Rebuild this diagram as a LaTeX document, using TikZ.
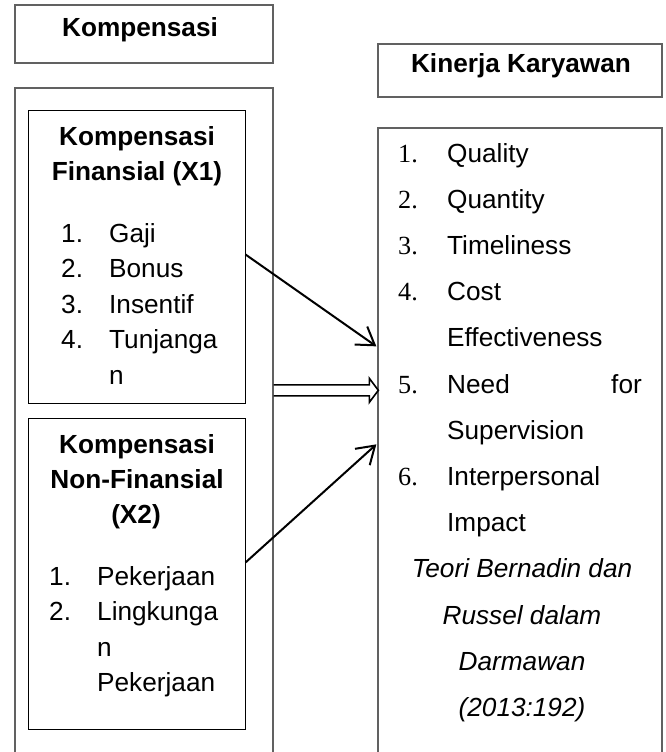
\documentclass[tikz,border=0pt]{standalone}
\usepackage{fontspec}
\setmainfont{Liberation Sans}
\newfontfamily\tnr{Liberation Serif}
\usetikzlibrary{arrows.meta,calc}
\begin{document}
\begin{tikzpicture}[x=1pt,y=-1pt,
  obox/.style={draw=black!62, line width=1.3pt, inner sep=0pt},
  ibox/.style={draw=black, line width=1pt, inner sep=0pt},
  tx/.style={inner sep=0pt, font=\fontsize{26.2}{30}\selectfont},
  tb/.style={inner sep=0pt, font=\fontsize{26.2}{30}\selectfont\bfseries},
  ti/.style={inner sep=0pt, font=\fontsize{26.2}{30}\selectfont\itshape},
  tn/.style={inner sep=0pt, font=\fontsize{26.2}{30}\selectfont\tnr},
  conn/.style={line width=2pt, -{Straight Barb[length=17pt,width=22pt,line width=2pt]}},
  dbl/.style={line width=1.6pt, line join=miter}]
\useasboundingbox (0,0) rectangle (665,752);
\fill[white] (0,0) rectangle (665,752);
\clip (0,0) rectangle (665,752);

% boxes
\node[obox, minimum width=258pt, minimum height=58pt] (komp) at (144,34) {};
\node[obox, minimum width=258pt, minimum height=682pt] (outer) at (144,429) {};
\node[ibox, minimum width=217pt, minimum height=293pt] (fin) at (136.5,256.5) {};
\node[ibox, minimum width=217pt, minimum height=311pt] (nonfin) at (136.5,573.5) {};
\node[obox, minimum width=284pt, minimum height=53pt] (kin) at (520,70.5) {};
\node[obox, minimum width=284pt, minimum height=642pt] (perf) at (520,449) {};

% headings
\node[tb, anchor=base] (kompt) at (140,37) {Kompensasi};
\node[tb, anchor=base] (kint) at (521,73) {Kinerja Karyawan};

% financial box
\node[tb, anchor=base] (f1) at (137,145) {Kompensasi};
\node[tb, anchor=base] (f2) at (137,180) {Finansial (X1)};
\node[tx, anchor=base west] (fn1) at (61,242) {1.};
\node[tx, anchor=base west] (fi1) at (109,242) {Gaji};
\node[tx, anchor=base west] (fn2) at (61,277.5) {2.};
\node[tx, anchor=base west] (fi2) at (109,277.5) {Bonus};
\node[tx, anchor=base west] (fn3) at (61,313) {3.};
\node[tx, anchor=base west] (fi3) at (109,313) {Insentif};
\node[tx, anchor=base west] (fn4) at (61,348.5) {4.};
\node[tx, anchor=base west] (fi4) at (109,348.5) {Tunjanga};
\node[tx, anchor=base west] (fi4b) at (109,384) {n};

% non-financial box
\node[tb, anchor=base] (n1) at (137,453) {Kompensasi};
\node[tb, anchor=base] (n2) at (137,488) {Non-Finansial};
\node[tb, anchor=base] (n3) at (136,523) {(X2)};
\node[tx, anchor=base west] (nn1) at (49,585) {1.};
\node[tx, anchor=base west] (ni1) at (97,585) {Pekerjaan};
\node[tx, anchor=base west] (nn2) at (49,620.5) {2.};
\node[tx, anchor=base west] (ni2) at (97,620.5) {Lingkunga};
\node[tx, anchor=base west] (ni2b) at (97,656) {n};
\node[tx, anchor=base west] (ni2c) at (97,691.5) {Pekerjaan};

% performance box
\node[tn, anchor=base west] (p1) at (398,162) {1.};
\node[tx, anchor=base west] (q1) at (447,162) {Quality};
\node[tn, anchor=base west] (p2) at (398,208.2) {2.};
\node[tx, anchor=base west] (q2) at (447,208.2) {Quantity};
\node[tn, anchor=base west] (p3) at (398,254.4) {3.};
\node[tx, anchor=base west] (q3) at (447,254.4) {Timeliness};
\node[tn, anchor=base west] (p4) at (398,300.6) {4.};
\node[tx, anchor=base west] (q4) at (447,300.6) {Cost};
\node[tx, anchor=base west] (q4b) at (447,346.8) {Effectiveness};
\node[tn, anchor=base west] (p5) at (398,393) {5.};
\node[tx, anchor=base west] (q5) at (447,393) {Need};
\node[tx, anchor=base east] (q5f) at (642,393) {for};
\node[tx, anchor=base west] (q5b) at (447,439.2) {Supervision};
\node[tn, anchor=base west] (p6) at (398,485.4) {6.};
\node[tx, anchor=base west] (q6) at (447,485.4) {Interpersonal};
\node[tx, anchor=base west] (q6b) at (447,531.6) {Impact};
\node[ti, anchor=base] (s1) at (522,577.8) {Teori Bernadin dan};
\node[ti, anchor=base] (s2) at (522,624) {Russel dalam};
\node[ti, anchor=base] (s3) at (522,670.2) {Darmawan};
\node[ti, anchor=base] (s4) at (522,716.4) {(2013:192)};

% connectors
\coordinate (a1s) at ($(fin.north east)+(0,145)$);
\coordinate (a1e) at ($(perf.north west)+(-1,219)$);
\coordinate (a3s) at ($(nonfin.north east)+(0,145)$);
\coordinate (a3e) at ($(perf.north west)+(-1,317)$);
\draw[conn] (a1s) -- (a1e);
\draw[conn] (a3s) -- (a3e);

\coordinate (ds) at ($(outer.north east)+(0,303)$);
\coordinate (de) at ($(perf.north west)+(1,263)$);
\draw[dbl] ($(ds)+(0,-5.5)$) -- ($(de)+(-9,-5.5)$) -- ($(de)+(-9,-12)$) -- (de)
  -- ($(de)+(-9,12)$) -- ($(de)+(-9,5.5)$) -- ($(ds)+(0,5.5)$);
\end{tikzpicture}
\end{document}
